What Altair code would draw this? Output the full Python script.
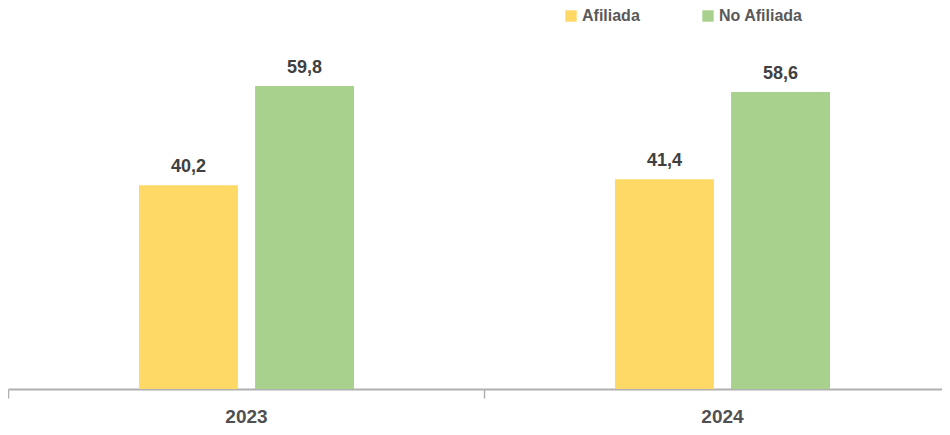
import altair as alt
import pandas as pd

years = ["2023", "2024"]
series = ["Afiliada", "No Afiliada"]
afiliada = [40.2, 41.4]
no_afiliada = [59.8, 58.6]
colors = ["#FFD966", "#A9D18E"]

rows = []
for i, y in enumerate(years):
    rows.append({"year": y, "serie": series[0], "value": afiliada[i]})
    rows.append({"year": y, "serie": series[1], "value": no_afiliada[i]})
df = pd.DataFrame(rows)
df["label"] = df["value"].map(lambda v: f"{v:.1f}".replace(".", ","))

FONT = "Liberation Sans Narrow, Arial Narrow, Liberation Sans, Arial, sans-serif"

x = alt.X(
    "year:N",
    sort=years,
    title="",
    scale=alt.Scale(range=[0, 952], paddingInner=0, paddingOuter=0),
    axis=alt.Axis(
        tickBand="extent",
        domainColor="#b0b0b0",
        domainWidth=2,
        tickColor="#b0b0b0",
        tickWidth=1.5,
        tickSize=9,
        labelAngle=0,
        labelFont=FONT,
        labelFontSize=19,
        labelFontWeight="bold",
        labelColor="#505050",
        labelPadding=9,
        grid=False,
    ),
)
xoff = alt.XOffset(
    "serie:N",
    sort=series,
    scale=alt.Scale(domain=series, range=[131, 346], paddingInner=0.1478, paddingOuter=0),
)
y = alt.Y("value:Q", scale=alt.Scale(domain=[0, 75.19], nice=False), axis=None)

bars = alt.Chart(df).mark_bar().encode(
    x=x,
    xOffset=xoff,
    y=y,
    color=alt.Color(
        "serie:N",
        sort=series,
        scale=alt.Scale(domain=series, range=colors),
        legend=alt.Legend(
            title="",
            orient="none",
            direction="horizontal",
            legendX=555,
            legendY=0,
            symbolType="square",
            symbolSize=130,
            symbolStrokeWidth=0,
            symbolOpacity=1,
            labelFont=FONT,
            labelFontSize=16,
            labelFontWeight="bold",
            labelColor="#595959",
            labelOffset=3,
            columnPadding=60,
            padding=0,
        ),
    ),
)

labels = alt.Chart(df).mark_text(
    baseline="alphabetic",
    dy=-13,
    font=FONT,
    fontSize=18,
    fontWeight="bold",
    color="#404040",
).encode(x=x, xOffset=xoff, y=y, text="label:N")

chart = (
    alt.layer(bars, labels)
    .properties(
        width=934,
        height=381,
        autosize=alt.AutoSizeParams(type="none"),
        padding={"left": 0, "top": 0, "right": 0, "bottom": 38},
    )
    .configure_view(stroke=None)
)

chart.save("out.html", embed_options={"renderer": "svg", "actions": False})
